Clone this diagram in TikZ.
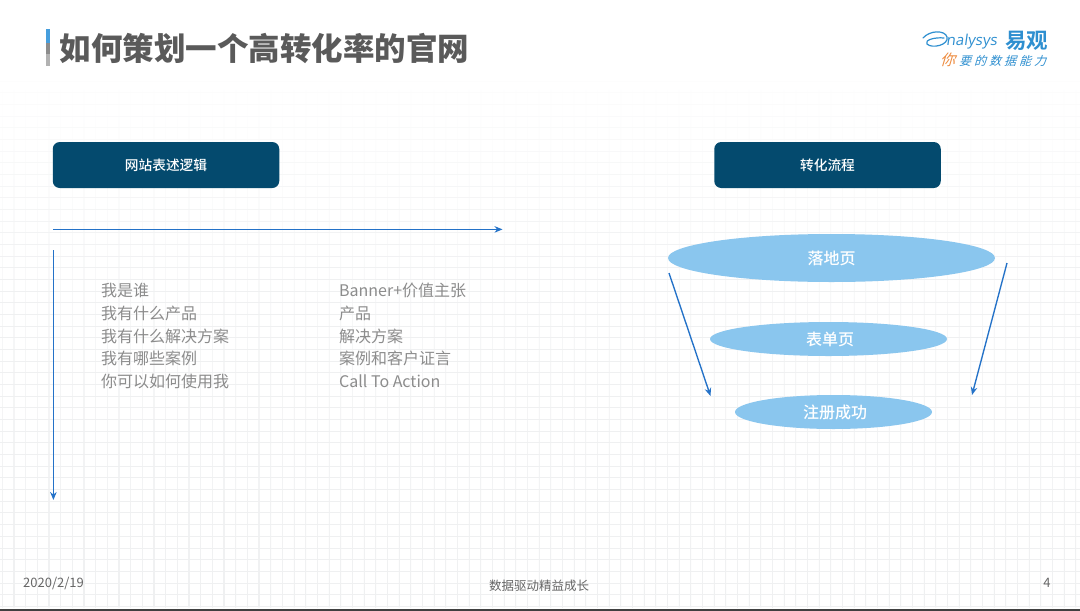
\documentclass[tikz,border=0pt]{standalone}
\usepackage{fontspec}
\usetikzlibrary{arrows.meta,shapes.geometric}
\setmainfont{Noto Sans CJK SC}
\newfontfamily\cjkbold{Noto Sans CJK SC Black}
\newfontfamily\cjklogo{Noto Sans CJK SC Bold}
\newfontfamily\cjkmed{Noto Sans CJK SC Medium}
\newfontfamily\slantcjk[FakeSlant=0.3]{Noto Sans CJK SC}
\newfontfamily\slantsp[FakeSlant=0.3,LetterSpace=25]{Noto Sans CJK SC}
\newfontfamily\slantlat[FakeSlant=0.14]{Open Sans}
\definecolor{boxblue}{HTML}{044A6E}
\definecolor{ellblue}{HTML}{8AC6EE}
\definecolor{arrowblue}{HTML}{2472C8}
\definecolor{bodygrey}{HTML}{8C8C8C}
\definecolor{titlegrey}{HTML}{5A5A5A}
\definecolor{footgrey}{HTML}{666666}
\definecolor{gridc}{HTML}{EFF0F1}
\definecolor{logoblue}{HTML}{2E8FD0}
\definecolor{logoorange}{HTML}{EE8A3C}
\tikzset{
  x=1pt,y=-1pt,
  headbox/.style={fill=boxblue,rounded corners=7pt,minimum width=226.5pt,minimum height=46pt,inner sep=0pt,text=white,font=\fontsize{13.7}{16}\selectfont\cjkmed},
  funnel/.style={ellipse,fill=ellblue,inner sep=0pt,text=white,font=\fontsize{16}{18}\selectfont\cjkmed},
  flow/.style={draw=arrowblue,line width=1.35pt,-{Stealth[length=8pt,width=6.5pt]}},
  bodytext/.style={anchor=west,inner sep=0pt,text=bodygrey,font=\fontsize{16}{18}\selectfont},
  foot/.style={inner sep=0pt,text=footgrey,font=\fontsize{12.5}{14}\selectfont},
}
\begin{document}
\begin{tikzpicture}
\useasboundingbox (0,0) rectangle (1080,611);
\fill[white] (0,0) rectangle (1080,611);
% grid, fading out toward the top
\foreach \i in {0,...,92}{\shade[top color=white,bottom color=gridc,middle color=gridc!60!white] ({2+11.67*\i},75) rectangle ({2.6+11.67*\i},607);}
\foreach \j in {0,...,45}{
  \pgfmathtruncatemacro{\p}{min(100,15+\j*5)}
  \draw[gridc!\p!white,line width=.6pt] (0,{81+11.67*\j}) -- (1080,{81+11.67*\j});}
\fill[black!75] (0,608.5) rectangle (1080,611);
% title
\fill[cyan!70!blue!75] (46,29) rectangle (50,43);
\fill[gray!90] (46,43) rectangle (50,54);
\fill[gray!60] (46,54) rectangle (50,66);
\node[inner sep=0pt,anchor=west,text=titlegrey,font=\fontsize{31.5}{34}\selectfont\cjkbold] (title) at (59.5,48.7) {如何策划一个高转化率的官网};
% logo
\draw[logoblue,line width=1.2pt,line cap=round] (923,38) .. controls (930,30) and (945,30) .. (947,37) .. controls (949,45) and (932,49) .. (927,44) .. controls (924,40) and (935,37) .. (944,38);
\node[inner sep=0pt,anchor=west,text=logoblue,font=\fontsize{15}{18}\selectfont\slantlat] (logoa) at (946,41.5) {nalysys};
\node[inner sep=0pt,anchor=west,text=logoblue,font=\fontsize{21.5}{23}\selectfont\cjklogo] (logob) at (1005,41) {易观};
\node[inner sep=0pt,anchor=west,text=logoorange,font=\fontsize{15}{17}\selectfont\slantcjk] (logoc) at (940,59.5) {你};
\node[inner sep=0pt,anchor=west,text=logoblue,font=\fontsize{12}{14}\selectfont\slantsp] (logod) at (959,60.5) {要的数据能力};
% header boxes
\node[headbox] (left) at (166,165) {网站表述逻辑};
\node[headbox] (right) at (827.5,165) {转化流程};
% axes
\coordinate (hs) at (53,229.4);
\coordinate (he) at (502.5,229.4);
\coordinate (vs) at (53.4,250);
\coordinate (ve) at (53.4,500);
\draw[flow] (hs) -- (he);
\draw[flow] (vs) -- (ve);
% lists
\node[bodytext] (l1) at (101,290) {我是谁};
\node[bodytext] (l2) at (101,313) {我有什么产品};
\node[bodytext] (l3) at (101,336) {我有什么解决方案};
\node[bodytext] (l4) at (101,358) {我有哪些案例};
\node[bodytext] (l5) at (101,381) {你可以如何使用我};
\node[bodytext] (r1) at (339,290) {Banner+价值主张};
\node[bodytext] (r2) at (339,313) {产品};
\node[bodytext] (r3) at (339,336) {解决方案};
\node[bodytext] (r4) at (339,358) {案例和客户证言};
\node[bodytext] (r5) at (339,381) {Call To Action};
% funnel
\node[funnel,minimum width=327pt,minimum height=48pt] (e1) at (831.5,258) {\raisebox{-1pt}{落地页}};
\node[funnel,minimum width=237pt,minimum height=34pt] (e2) at (828.5,339) {\hspace{3pt}表单页};
\node[funnel,minimum width=197pt,minimum height=34pt] (e3) at (833.5,412) {\hspace{3pt}注册成功};
\coordinate (las) at (669,273);
\coordinate (lae) at (710.5,396);
\coordinate (ras) at (1007,263);
\coordinate (rae) at (972,395);
\draw[flow] (las) -- (lae);
\draw[flow] (ras) -- (rae);
% footer
\node[foot,anchor=west,font=\fontsize{13}{15}\selectfont] (date) at (23,583) {2020/2/19};
\node[foot] (slogan) at (539,585.5) {数据驱动精益成长};
\node[foot,font=\fontsize{13}{15}\selectfont] (page) at (1047,583) {4};
\end{tikzpicture}
\end{document}
